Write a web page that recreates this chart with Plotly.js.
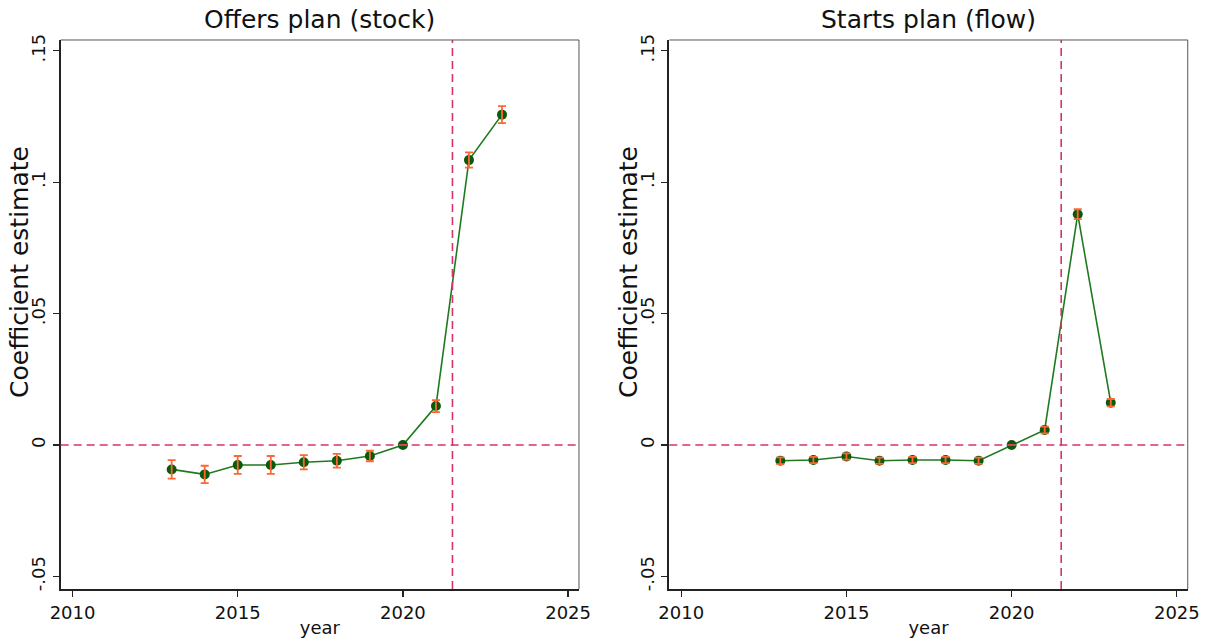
<!DOCTYPE html>
<html>
<head>
<meta charset="utf-8">
<script src="https://cdn.plot.ly/plotly-3.0.1.min.js"></script>
<style>
  html, body { margin: 0; padding: 0; background: #fff; }
  #chart { width: 1211px; height: 643px; }
</style>
</head>
<body>
<div id="chart"></div>
<script>
// Event-study coefficients by year, with 95% confidence half-widths
const years = [2013, 2014, 2015, 2016, 2017, 2018, 2019, 2020, 2021, 2022, 2023];

const offersCoef = [-0.0093, -0.0112, -0.0076, -0.0076, -0.0066, -0.0060, -0.0042, 0.0000, 0.0148, 0.1084, 0.1257];
const offersErr  = [0.0035, 0.0033, 0.0034, 0.0034, 0.0027, 0.0026, 0.0020, 0.0000, 0.0023, 0.0029, 0.0032];

const startsCoef = [-0.0060, -0.0057, -0.0044, -0.0060, -0.0057, -0.0057, -0.0060, 0.0000, 0.0057, 0.0878, 0.0161];
const startsErr  = [0.0013, 0.0012, 0.0012, 0.0012, 0.0012, 0.0012, 0.0012, 0.0000, 0.0013, 0.0019, 0.0014];

const panelTitles = ['Offers plan (stock)', 'Starts plan (flow)'];
const yTitle = 'Coefficient estimate';
const xTitle = 'year';
const yTickVals = [-0.05, 0, 0.05, 0.1, 0.15];
const yTickText = ['-.05', '0', '.05', '.1', '.15'];
const xTickVals = [2010, 2015, 2020, 2025];
const policyYear = 2021.5;

const lineGreen = '#1f7a1f';
const dotGreen = '#0b5a0b';
const barOrange = '#ff6633';
const refRed = '#d6336c';

function panel(coef, err, xa, ya) {
  return [
    {
      x: years, y: coef, xaxis: xa, yaxis: ya, type: 'scatter', mode: 'lines+markers',
      line: { color: lineGreen, width: 1.6 },
      marker: { color: dotGreen, size: 10 },
      hoverinfo: 'skip', showlegend: false
    },
    {
      x: years, y: coef, xaxis: xa, yaxis: ya, type: 'scatter', mode: 'markers',
      marker: { color: 'rgba(0,0,0,0)', size: 1 },
      error_y: { type: 'data', array: err, visible: true, color: barOrange, thickness: 1.8, width: 4 },
      hoverinfo: 'skip', showlegend: false
    }
  ];
}

const data = [].concat(
  panel(offersCoef, offersErr, 'x', 'y'),
  panel(startsCoef, startsErr, 'x2', 'y2')
);

const fam = 'DejaVu Sans, sans-serif';

function xAxis(domain, anchor) {
  return {
    domain: domain, anchor: anchor, range: [2009.64, 2025.33],
    tickvals: xTickVals, ticks: 'outside', ticklen: 6, tickwidth: 1.2, tickcolor: '#222',
    showgrid: false, zeroline: false, showline: true, linecolor: '#222', linewidth: 2,
    tickfont: { family: fam, size: 18, color: '#111' },
    title: { text: xTitle, font: { family: fam, size: 18, color: '#111' }, standoff: 0 }
  };
}
function yAxis(anchor) {
  return {
    domain: [0.084, 0.9378], anchor: anchor, range: [-0.0548, 0.1541],
    tickvals: yTickVals, ticktext: yTickText, tickangle: -90,
    ticks: 'outside', ticklen: 6, tickwidth: 1.2, tickcolor: '#222',
    showgrid: false, zeroline: false, showline: true, linecolor: '#222', linewidth: 2,
    tickfont: { family: fam, size: 18, color: '#111' }
  };
}

const shapes = [];
[['x', 'y'], ['x2', 'y2']].forEach(([xa, ya]) => {
  // reference lines at zero and at the policy date
  shapes.push({ type: 'line', xref: xa + ' domain', yref: ya, x0: 0, x1: 1, y0: 0, y1: 0,
    line: { color: refRed, width: 1.6, dash: '8px,5px' } });
  shapes.push({ type: 'line', xref: xa, yref: ya + ' domain', x0: policyYear, x1: policyYear, y0: 0, y1: 1,
    line: { color: refRed, width: 1.6, dash: '8px,5px' } });
  // thin top and right frame edges
  shapes.push({ type: 'line', xref: xa + ' domain', yref: ya + ' domain', x0: 0, x1: 1, y0: 1, y1: 1,
    line: { color: '#555', width: 1 } });
  shapes.push({ type: 'line', xref: xa + ' domain', yref: ya + ' domain', x0: 1, x1: 1, y0: 0, y1: 1,
    line: { color: '#555', width: 1 } });
});

const annotations = [];
panelTitles.forEach((t, i) => {
  annotations.push({
    text: t, xref: 'paper', yref: 'paper',
    x: i === 0 ? 0.2641 : 0.7667, y: 1 - 20 / 643, xanchor: 'center', yanchor: 'middle',
    showarrow: false, font: { family: fam, size: 25, color: '#111' }
  });
  // vertical y-axis title for each panel
  annotations.push({
    text: yTitle, xref: 'paper', yref: 'paper', textangle: -90,
    x: (i === 0 ? 19 : 628) / 1211, y: 1 - 272 / 643, xanchor: 'center', yanchor: 'middle',
    showarrow: false, font: { family: fam, size: 25, color: '#111' }
  });
});

const layout = {
  width: 1211, height: 643,
  margin: { l: 0, r: 0, t: 0, b: 0 },
  paper_bgcolor: '#fff', plot_bgcolor: '#fff',
  font: { family: fam, color: '#111' },
  xaxis: xAxis([0.0501, 0.4781], 'y'),
  yaxis: yAxis('x'),
  xaxis2: xAxis([0.5527, 0.9808], 'y2'),
  yaxis2: yAxis('x2'),
  shapes: shapes,
  annotations: annotations,
  showlegend: false
};

Plotly.newPlot('chart', data, layout, { displayModeBar: false, staticPlot: true });
</script>
</body>
</html>
